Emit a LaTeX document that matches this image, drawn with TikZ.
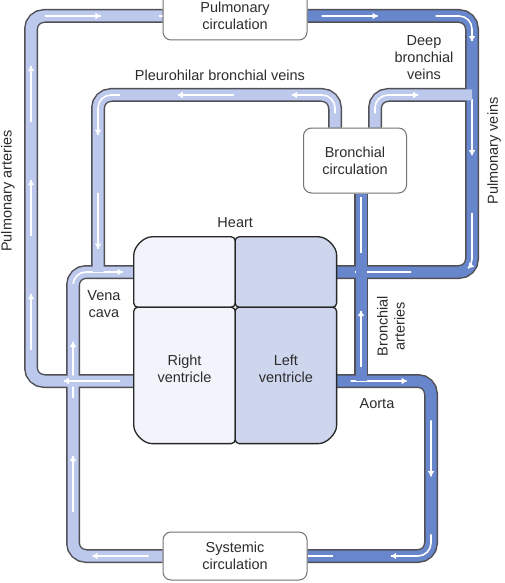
\documentclass[tikz,border=0pt]{standalone}
\usepackage{fontspec}
\setmainfont{Liberation Sans}
\usepackage{tikz}
\usetikzlibrary{positioning, arrows.meta, decorations.markings, backgrounds}
\definecolor{veinlight}{RGB}{188,200,236}
\definecolor{veindark}{RGB}{104,134,204}
\definecolor{tubeline}{RGB}{80,80,86}
\definecolor{heartlight}{RGB}{242,244,251}
\definecolor{heartdark}{RGB}{206,214,238}
\definecolor{inktext}{RGB}{45,45,45}
\pgfdeclareradialshading{boxglow}{\pgfpoint{0bp}{0bp}}{color(0bp)=(white); color(32bp)=(white); color(50bp)=(black!27)}
\pgfdeclareradialshading{rightglow}{\pgfpoint{0bp}{0bp}}{color(0bp)=(heartlight); color(36bp)=(heartlight); color(50bp)=(heartlight!75!veinlight)}
\pgfdeclareradialshading{leftglow}{\pgfpoint{0bp}{0bp}}{color(0bp)=(heartdark); color(36bp)=(heartdark); color(50bp)=(heartdark!65!veindark)}
\tikzstyle{plaintext} = [align=center, 
inner sep=0pt, 
text=inktext]
\tikzstyle{circbox} = [rectangle, rounded corners=8pt, 
minimum width=144pt, 
minimum height=48pt, 
align=center, 
shade, shading=boxglow, 
line width=1pt, 
text=inktext, 
draw=black!55]
\tikzstyle{chamber} = [rectangle, 
minimum width=101pt, 
inner sep=0pt, 
align=center, 
text=inktext]
\tikzstyle{flow} = [postaction={draw=white, line width=1.6pt, dash pattern=on 0pt off 14pt on 56pt off 44pt},
postaction={decorate, draw=white, line width=1.6pt,
decoration={markings, mark=between positions 70pt and -4pt step 114pt with {\arrow{Triangle[length=5pt, width=6pt, color=white]}}}}]
\tikzstyle{tubeedge} = [draw=tubeline, line width=14pt, rounded corners=13pt]
\tikzstyle{lighttube} = [draw=veinlight, line width=11pt, rounded corners=13pt, flow]
\tikzstyle{darktube} = [draw=veindark, line width=11pt, rounded corners=13pt, flow]
\tikzstyle{heartline} = [draw=black!85, line width=1.3pt, rounded corners=4pt]

\begin{document}
\begin{tikzpicture}[x=1pt, y=-1pt, font=\fontsize{14.5}{17}\selectfont]
		\useasboundingbox (0,0) rectangle (504,583);
		% heart
		\node (ra) [chamber, minimum height=70pt] at (184.5,272) {};
		\node (la) [chamber, minimum height=70pt, right=0pt of ra] {};
		\node (rv) [chamber, minimum height=136pt, text depth=14pt, below=0pt of ra] {Right\\ventricle};
		\node (lv) [chamber, minimum height=136pt, text depth=14pt, right=0pt of rv] {Left\\ventricle};
		\node (heart) [plaintext, above=9pt of ra.north east] {Heart};
		
		% circulations
		\node (pc) [circbox] at (235,16) {Pulmonary\\circulation};
		\node (sc) [circbox] at (235,556) {Systemic\\circulation};
		\node (bc) [circbox, minimum width=103pt, minimum height=65pt] at (355,160.5) {Bronchial\\circulation};
		
		% labels
		\node (pulart) [plaintext, rotate=90] at (8,191) {Pulmonary arteries};
		\node (pulvein) [plaintext, rotate=90] at (494,151) {Pulmonary veins};
		\node (pleuro) [plaintext] at (220,75) {Pleurohilar bronchial veins};
		\node (deep) [plaintext] at (424,58) {Deep\\bronchial\\veins};
		\node (vcava) [plaintext] at (104,304) {Vena\\cava};
		\node (bronart) [plaintext, rotate=90] at (391,326) {Bronchial\\arteries};
		\node (aorta) [plaintext] at (377,404) {Aorta};
		
		\coordinate (vcjoin) at (98,272);
		\coordinate (pvjoin) at (472,95);
		\coordinate (aojoin) at (361,381);
		
		\begin{scope}[on background layer]
		\fill [white] (0,0) rectangle (504,583);
		% tube edges first
		\draw [tubeedge] (rv.west |- 0,381) -- (31,381) -- (31,16) -- (pc.west);
		\draw [tubeedge] (pc.east) -- (472,16) -- (472,272) -- (la.east);
		\draw [tubeedge] ([xshift=20pt]bc.north) -- (375,95) -- (pvjoin);
		\draw [tubeedge] ([xshift=-20pt]bc.north) -- (335,95) -- (98,95) -- (vcjoin);
		\draw [tubeedge] (sc.west) -- (73,556) -- (73,272) -- (ra.west);
		\draw [tubeedge] (lv.east |- 0,381) -- (431,381) -- (431,556) -- (sc.east);
		\draw [tubeedge] (aojoin) -- ([xshift=6pt]bc.south);
		
		% then the tubes
		\draw [darktube] (pc.east) -- (472,16) -- (472,272) -- (la.east);
		\draw [darktube] (lv.east |- 0,381) -- (431,381) -- (431,556) -- (sc.east);
		\draw [darktube] (aojoin) -- ([xshift=6pt]bc.south);
		\draw [lighttube] (sc.west) -- (73,556) -- (73,272) -- (ra.west);
		\draw [lighttube] (rv.west |- 0,381) -- (31,381) -- (31,16) -- (pc.west);
		\draw [lighttube] ([xshift=-20pt]bc.north) -- (335,95) -- (98,95) -- (vcjoin);
		\draw [lighttube] ([xshift=20pt]bc.north) -- (375,95) -- (pvjoin);
		
		% chambers
		\draw [heartline, shade, shading=rightglow] (ra.south) -- (ra.south west) -- ([yshift=-22pt]ra.north west) arc[start angle=180, end angle=90, radius=22pt] -- (ra.north east) -- (ra.south east) -- cycle;
		\draw [heartline, shade, shading=leftglow] (la.south) -- (la.south east) -- ([yshift=-22pt]la.north east) arc[start angle=0, end angle=90, radius=22pt] -- (la.north west) -- (la.south west) -- cycle;
		\draw [heartline, shade, shading=rightglow] (rv.north) -- (rv.north west) -- ([yshift=22pt]rv.south west) arc[start angle=180, end angle=270, radius=22pt] -- (rv.south east) -- (rv.north east) -- cycle;
		\draw [heartline, shade, shading=leftglow] (lv.north) -- (lv.north east) -- ([yshift=22pt]lv.south east) arc[start angle=0, end angle=-90, radius=22pt] -- (lv.south west) -- (lv.north west) -- cycle;
		\end{scope}
	\end{tikzpicture}
\end{document}
